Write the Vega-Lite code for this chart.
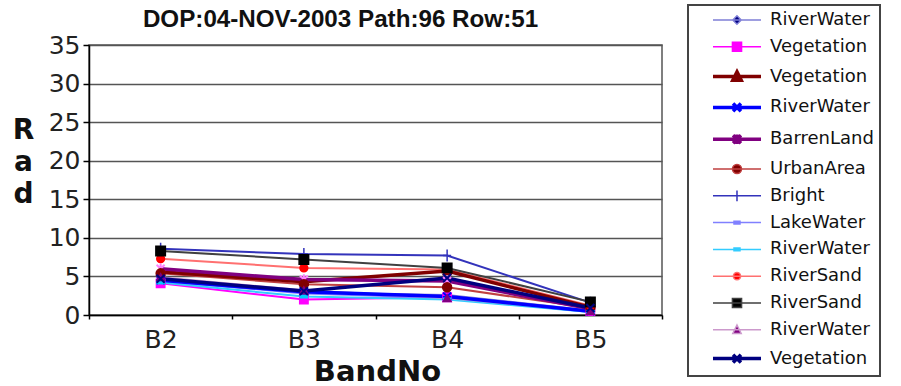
{
  "$schema": "https://vega.github.io/schema/vega-lite/v6.json",
  "width": 573,
  "height": 270,
  "autosize": {"type": "none"},
  "padding": {"left": 89, "top": 45, "right": 239, "bottom": 71},
  "background": "white",
  "title": {
    "text": "DOP:04-NOV-2003 Path:96 Row:51",
    "font": "Liberation Sans",
    "fontSize": 24.2,
    "fontWeight": "bold",
    "color": "#111",
    "anchor": "middle",
    "frame": "group",
    "dx": -35,
    "baseline": "alphabetic",
    "offset": -47
  },
  "config": {
    "view": {"stroke": "#555", "strokeWidth": 1.5},
    "axis": {
      "labelFont": "DejaVu Sans",
      "labelFontSize": 25,
      "labelColor": "#222",
      "domainColor": "#000",
      "domainWidth": 1.5,
      "tickColor": "#000",
      "tickWidth": 1.5,
      "titleFont": "DejaVu Sans",
      "titleFontWeight": "bold",
      "titleColor": "#111"
    },
    "legend": {
      "labelFont": "DejaVu Sans",
      "labelFontSize": 18,
      "labelColor": "#111"
    },
    "point": {"filled": true, "opacity": 1, "strokeWidth": 1.5}
  },
  "data": {
    "values": [
      {"s": "01 RiverWater", "b": "B2", "v": 4.6}, {"s": "01 RiverWater", "b": "B3", "v": 2.9}, {"s": "01 RiverWater", "b": "B4", "v": 2.6}, {"s": "01 RiverWater", "b": "B5", "v": 0.6},
      {"s": "02 Vegetation", "b": "B2", "v": 4.1}, {"s": "02 Vegetation", "b": "B3", "v": 2.0}, {"s": "02 Vegetation", "b": "B4", "v": 2.3}, {"s": "02 Vegetation", "b": "B5", "v": 0.5},
      {"s": "03 Vegetation", "b": "B2", "v": 5.6}, {"s": "03 Vegetation", "b": "B3", "v": 4.3}, {"s": "03 Vegetation", "b": "B4", "v": 5.7}, {"s": "03 Vegetation", "b": "B5", "v": 1.0},
      {"s": "04 RiverWater", "b": "B2", "v": 4.5}, {"s": "04 RiverWater", "b": "B3", "v": 3.0}, {"s": "04 RiverWater", "b": "B4", "v": 2.4}, {"s": "04 RiverWater", "b": "B5", "v": 0.5},
      {"s": "05 BarrenLand", "b": "B2", "v": 6.0}, {"s": "05 BarrenLand", "b": "B3", "v": 4.6}, {"s": "05 BarrenLand", "b": "B4", "v": 4.4}, {"s": "05 BarrenLand", "b": "B5", "v": 0.8},
      {"s": "06 UrbanArea", "b": "B2", "v": 5.4}, {"s": "06 UrbanArea", "b": "B3", "v": 4.0}, {"s": "06 UrbanArea", "b": "B4", "v": 3.6}, {"s": "06 UrbanArea", "b": "B5", "v": 0.9},
      {"s": "07 Bright", "b": "B2", "v": 8.6}, {"s": "07 Bright", "b": "B3", "v": 7.9}, {"s": "07 Bright", "b": "B4", "v": 7.7}, {"s": "07 Bright", "b": "B5", "v": 1.6},
      {"s": "08 LakeWater", "b": "B2", "v": 4.4}, {"s": "08 LakeWater", "b": "B3", "v": 2.8}, {"s": "08 LakeWater", "b": "B4", "v": 2.2}, {"s": "08 LakeWater", "b": "B5", "v": 0.4},
      {"s": "09 RiverWater", "b": "B2", "v": 4.2}, {"s": "09 RiverWater", "b": "B3", "v": 2.4}, {"s": "09 RiverWater", "b": "B4", "v": 2.0}, {"s": "09 RiverWater", "b": "B5", "v": 0.4},
      {"s": "10 RiverSand", "b": "B2", "v": 7.3}, {"s": "10 RiverSand", "b": "B3", "v": 6.1}, {"s": "10 RiverSand", "b": "B4", "v": 5.9}, {"s": "10 RiverSand", "b": "B5", "v": 1.2},
      {"s": "11 RiverSand", "b": "B2", "v": 8.3}, {"s": "11 RiverSand", "b": "B3", "v": 7.2}, {"s": "11 RiverSand", "b": "B4", "v": 6.1}, {"s": "11 RiverSand", "b": "B5", "v": 1.7},
      {"s": "12 RiverWater", "b": "B2", "v": 4.9}, {"s": "12 RiverWater", "b": "B3", "v": 3.2}, {"s": "12 RiverWater", "b": "B4", "v": 2.2}, {"s": "12 RiverWater", "b": "B5", "v": 0.5},
      {"s": "13 Vegetation", "b": "B2", "v": 4.7}, {"s": "13 Vegetation", "b": "B3", "v": 3.1}, {"s": "13 Vegetation", "b": "B4", "v": 4.8}, {"s": "13 Vegetation", "b": "B5", "v": 0.9}
    ]
  },
  "encoding": {
    "x": {
      "field": "b",
      "type": "nominal",
      "scale": {"type": "band", "paddingInner": 0, "paddingOuter": 0},
      "axis": {
        "title": "BandNo",
        "titleFontSize": 29,
        "titleX": 288,
        "titleY": 65,
        "titleBaseline": "alphabetic",
        "labelAngle": 0,
        "tickBand": "extent",
        "tickSize": 4,
        "labelPadding": 8
      }
    },
    "y": {
      "field": "v",
      "type": "quantitative",
      "scale": {"domain": [0, 35], "nice": false},
      "axis": {
        "title": ["R", "a", "d"],
        "titleAngle": 0,
        "titleFontSize": 28,
        "titleLineHeight": 32,
        "titleAlign": "center",
        "titleBaseline": "alphabetic",
        "titleX": -66,
        "titleY": 93,
        "values": [0, 5, 10, 15, 20, 25, 30, 35],
        "grid": true,
        "gridColor": "#555",
        "gridWidth": 1.5,
        "tickSize": 6,
        "labelPadding": 3
      }
    }
  },
  "layer": [
    {
      "transform": [{"filter": {"not": {"field": "s", "oneOf": ["03 Vegetation", "04 RiverWater", "05 BarrenLand", "13 Vegetation"]}}}],
      "mark": {"type": "line", "strokeWidth": 2},
      "encoding": {
        "color": {
          "field": "s",
          "type": "nominal",
          "scale": {
            "domain": ["01 RiverWater", "02 Vegetation", "03 Vegetation", "04 RiverWater", "05 BarrenLand", "06 UrbanArea", "07 Bright", "08 LakeWater", "09 RiverWater", "10 RiverSand", "11 RiverSand", "12 RiverWater", "13 Vegetation"],
            "range": ["#7f7fd6", "#ff00ff", "#800000", "#0000ff", "#800080", "#c04040", "#3333bb", "#8080ff", "#33ccff", "#ff7070", "#404040", "#cc99cc", "#000080"]
          },
          "legend": {
            "title": null,
            "orient": "none",
            "legendX": 599,
            "legendY": -40,
            "padding": 6,
            "strokeColor": "#444",
            "symbolSize": 576,
            "rowPadding": 8.8,
            "labelOffset": 58,
            "labelExpr": "substring(datum.value, 3)",
            "encode": {
              "legend": {"update": {"strokeWidth": {"value": 2}}},
              "symbols": {
                "update": {
                  "shape": {"signal": "['M0.833,0H4.833M2.483,0L2.833,-0.35L3.183,0L2.833,0.35Z','M0.833,0H4.833M2.453,-0.38H3.213V0.38H2.453Z','M0.833,0H4.833M2.833,-0.4L3.183,0.3L2.483,0.3Z','M0.833,0H4.833M2.503,-0.33L3.163,0.33M2.503,0.33L3.163,-0.33','M0.833,0H4.833M2.503,-0.33L3.163,0.33M2.503,0.33L3.163,-0.33M2.833,-0.4V0.4','M0.833,0H4.833M2.453,0A0.38,0.38 0 1,0 3.213,0A0.38,0.38 0 1,0 2.453,0Z','M0.833,0H4.833M2.833,-0.45V0.45','M0.833,0H4.833M2.583,-0.12H3.083V0.12H2.583Z','M0.833,0H4.833M2.583,-0.12H3.083V0.12H2.583Z','M0.833,0H4.833M2.533,0A0.3,0.3 0 1,0 3.133,0A0.3,0.3 0 1,0 2.533,0Z','M0.833,0H4.833M2.453,-0.38H3.213V0.38H2.453Z','M0.833,0H4.833M2.833,-0.4L3.183,0.3L2.483,0.3Z','M0.833,0H4.833M2.503,-0.33L3.163,0.33M2.503,0.33L3.163,-0.33'][toNumber(substring(datum.value,0,2))-1]"},
                  "fill": {"signal": "['#000080','#ff00ff','#800000','#0000ff','#ff80ff','#800000','#3333bb','#0000ff','#00ccff','#ff0000','#000000','#800080','#000080'][toNumber(substring(datum.value,0,2))-1]"},
                  "strokeWidth": {"signal": "indexof(['03','04','05','13'], substring(datum.value,0,2)) >= 0 ? 3.5 : 1.5"},
                  "opacity": {"value": 1}
                }
              }
            }
          }
        }
      }
    },
    {
      "transform": [{"filter": {"field": "s", "oneOf": ["03 Vegetation", "04 RiverWater", "05 BarrenLand", "13 Vegetation"]}}],
      "mark": {"type": "line", "strokeWidth": 3.5},
      "encoding": {"color": {"field": "s", "type": "nominal"}}
    },
    {"transform": [{"filter": {"field": "s", "equal": "01 RiverWater"}}], "mark": {"type": "point", "shape": "diamond", "size": 60, "fill": "#000080", "stroke": "#000080"}},
    {"transform": [{"filter": {"field": "s", "equal": "02 Vegetation"}}], "mark": {"type": "point", "shape": "square", "size": 70, "fill": "#ff00ff", "stroke": "#ff00ff"}},
    {"transform": [{"filter": {"field": "s", "equal": "03 Vegetation"}}], "mark": {"type": "point", "shape": "triangle-up", "size": 60, "fill": "#800000", "stroke": "#800000"}},
    {"transform": [{"filter": {"field": "s", "equal": "04 RiverWater"}}], "mark": {"type": "point", "shape": "M-1,-1L1,1M-1,1L1,-1", "size": 64, "fill": "#0000ff", "stroke": "#0000ff", "strokeWidth": 2}},
    {"transform": [{"filter": {"field": "s", "equal": "05 BarrenLand"}}], "mark": {"type": "point", "shape": "M-1,-1L1,1M-1,1L1,-1M0,-1.3V1.3", "size": 64, "fill": "#ff80ff", "stroke": "#ff80ff", "strokeWidth": 2}},
    {"transform": [{"filter": {"field": "s", "equal": "06 UrbanArea"}}], "mark": {"type": "point", "shape": "circle", "size": 80, "fill": "#800000", "stroke": "#800000"}},
    {"transform": [{"filter": {"field": "s", "equal": "07 Bright"}}], "mark": {"type": "point", "shape": "M0,-1.5V1.5M-1,0H1", "size": 64, "fill": "#3333bb", "stroke": "#3333bb"}},
    {"transform": [{"filter": {"field": "s", "equal": "08 LakeWater"}}], "mark": {"type": "point", "shape": "M-1,-0.35H1V0.35H-1Z", "size": 50, "fill": "#0000ff", "stroke": "#0000ff"}},
    {"transform": [{"filter": {"field": "s", "equal": "09 RiverWater"}}], "mark": {"type": "point", "shape": "M-1,-0.35H1V0.35H-1Z", "size": 50, "fill": "#00ccff", "stroke": "#00ccff"}},
    {"transform": [{"filter": {"field": "s", "equal": "10 RiverSand"}}], "mark": {"type": "point", "shape": "circle", "size": 60, "fill": "#ff0000", "stroke": "#ff0000"}},
    {"transform": [{"filter": {"field": "s", "equal": "11 RiverSand"}}], "mark": {"type": "point", "shape": "square", "size": 90, "fill": "#000000", "stroke": "#000000"}},
    {"transform": [{"filter": {"field": "s", "equal": "12 RiverWater"}}], "mark": {"type": "point", "shape": "triangle-up", "size": 60, "fill": "#800080", "stroke": "#800080"}},
    {"transform": [{"filter": {"field": "s", "equal": "13 Vegetation"}}], "mark": {"type": "point", "shape": "M-1,-1L1,1M-1,1L1,-1", "size": 64, "fill": "#000080", "stroke": "#000080", "strokeWidth": 2}}
  ]
}
